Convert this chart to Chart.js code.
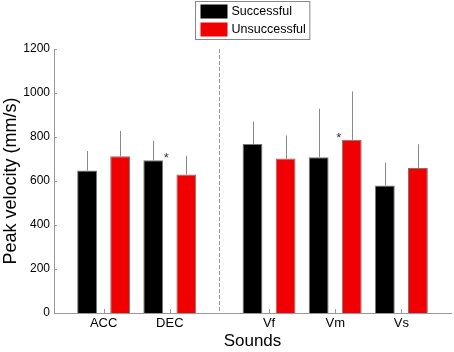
<!DOCTYPE html>
<html>
<head>
<meta charset="utf-8">
<script src="https://cdn.jsdelivr.net/npm/chart.js@4.4.1/dist/chart.umd.min.js"></script>
<style>
  html, body { margin: 0; padding: 0; background: #fff; }
  #wrap { width: 454px; height: 352px; }
</style>
</head>
<body>
<div id="wrap"><canvas id="c" width="454" height="352"></canvas></div>
<script>
// ---- data ----
const categories = ['ACC', 'DEC', 'Vf', 'Vm', 'Vs'];
const seriesNames = ['Successful', 'Unsuccessful'];
const successful = [648, 694, 768, 708, 580];
const successfulSD = [88, 89, 102, 220, 103];
const unsuccessful = [712, 630, 702, 787, 659];
const unsuccessfulSD = [115, 84, 105, 220, 108];
const successfulSig = [false, true, false, false, false];
const unsuccessfulSig = [false, false, false, true, false];
const yTicks = [0, 200, 400, 600, 800, 1000, 1200];
const groupBreakAfter = 1; // dashed separator after DEC

// ---- derived positions (slot units) ----
function catCenter(i) { return 2 * i + (i > groupBreakAfter ? 1 : 0) + 0.5; }
const separatorX = 2 * (groupBreakAfter + 1);
const sData = successful.map((v, i) => ({ x: catCenter(i) - 0.5, y: v }));
const uData = unsuccessful.map((v, i) => ({ x: catCenter(i) + 0.5, y: v }));

const FONT = "'Liberation Sans', Arial, Helvetica, sans-serif";
const GRAY = '#999999';
const RED = '#f00000';

const extras = {
  id: 'extras',
  beforeDatasetsDraw(chart) {
    const { ctx, chartArea, scales: { x } } = chart;
    const px = Math.round(x.getPixelForValue(separatorX)) + 0.5;
    ctx.save();
    ctx.strokeStyle = GRAY;
    ctx.lineWidth = 1;
    ctx.setLineDash([4, 2]);
    ctx.beginPath();
    ctx.moveTo(px, chartArea.top);
    ctx.lineTo(px, chartArea.bottom);
    ctx.stroke();
    ctx.restore();
  },
  afterDatasetsDraw(chart) {
    const { ctx, scales: { x, y } } = chart;
    const sets = [
      { data: sData, sd: successfulSD, sig: successfulSig, side: 1 },
      { data: uData, sd: unsuccessfulSD, sig: unsuccessfulSig, side: -1 }
    ];
    ctx.save();
    sets.forEach((s, di) => {
      const meta = chart.getDatasetMeta(di);
      s.data.forEach((p, i) => {
        const bar = meta.data[i];
        const cx = Math.round(x.getPixelForValue(p.x)) + 0.5;
        const yTop = y.getPixelForValue(p.y);
        const yErr = y.getPixelForValue(p.y + s.sd[i]);
        ctx.strokeStyle = '#888888';
        ctx.lineWidth = 1;
        ctx.setLineDash([]);
        ctx.beginPath();
        ctx.moveTo(cx, yTop);
        ctx.lineTo(cx, yErr);
        ctx.stroke();
        if (s.sig[i]) {
          const half = bar.width / 2;
          const sx = bar.x + s.side * (half + 3);
          ctx.fillStyle = '#333333';
          ctx.font = '13px ' + FONT;
          ctx.textAlign = 'center';
          ctx.textBaseline = 'alphabetic';
          ctx.fillText('*', sx, yTop + 2);
        }
      });
    });
    ctx.restore();
  },
  afterDraw(chart) {
    const { ctx, chartArea, scales: { x, y } } = chart;
    ctx.save();
    ctx.strokeStyle = GRAY;
    ctx.lineWidth = 1;
    // inward y ticks
    yTicks.forEach(v => {
      const py = Math.round(y.getPixelForValue(v)) + 0.5;
      ctx.beginPath();
      ctx.moveTo(chartArea.left, py);
      ctx.lineTo(chartArea.left + 3, py);
      ctx.stroke();
    });
    // inward x ticks
    categories.forEach((c, i) => {
      const px = Math.round(x.getPixelForValue(catCenter(i))) + 0.5;
      ctx.beginPath();
      ctx.moveTo(px, chartArea.bottom);
      ctx.lineTo(px, chartArea.bottom - 4);
      ctx.stroke();
    });
    // legend box
    ctx.font = '12.5px ' + FONT;
    const textW = Math.max(...seriesNames.map(n => ctx.measureText(n).width));
    const swW = 27, gap = 4, padL = 5, padR = 4;
    const boxW = padL + swW + gap + textW + padR;
    const boxH = 38;
    const cxm = (chartArea.left + chartArea.right) / 2;
    const bx = Math.round(cxm - boxW / 2) + 0.5;
    const by = 1.5;
    ctx.fillStyle = '#ffffff';
    ctx.fillRect(bx, by, boxW, boxH);
    ctx.strokeStyle = '#888888';
    ctx.strokeRect(bx, by, boxW, boxH);
    const colors = ['#000000', RED];
    const rowsY = [11.5, 29.5];
    seriesNames.forEach((n, i) => {
      ctx.fillStyle = colors[i];
      ctx.fillRect(bx + padL, rowsY[i] - 7, swW, 14);
      ctx.fillStyle = '#000000';
      ctx.textAlign = 'left';
      ctx.textBaseline = 'middle';
      ctx.fillText(n, bx + padL + swW + gap, rowsY[i] + 0.5);
    });
    ctx.restore();
  }
};

new Chart(document.getElementById('c'), {
  type: 'bar',
  data: {
    datasets: [
      { label: seriesNames[0], data: sData, backgroundColor: '#000000', borderColor: '#777777', borderWidth: 1 },
      { label: seriesNames[1], data: uData, backgroundColor: RED, borderColor: '#777777', borderWidth: 1 }
    ]
  },
  options: {
    responsive: false,
    animation: false,
    devicePixelRatio: 1,
    grouped: false,
    barPercentage: 0.6,
    categoryPercentage: 1,
    layout: { padding: { top: 49, right: 3, left: 0, bottom: 0 } },
    plugins: { legend: { display: false }, tooltip: { enabled: false } },
    scales: {
      x: {
        type: 'linear',
        min: -1,
        max: 11,
        bounds: 'data',
        offset: false,
        grid: { display: false, drawTicks: false, offset: false },
        border: { display: true, color: GRAY, width: 1 },
        afterBuildTicks: s => { s.ticks = categories.map((c, i) => ({ value: catCenter(i) })); },
        afterFit: s => { s.height = 39; },
        ticks: {
          autoSkip: false, maxRotation: 0, padding: 3,
          color: '#000000', font: { family: FONT, size: 13 },
          callback: (v, i) => categories[i]
        },
        title: { display: true, text: 'Sounds', color: '#000000', font: { family: FONT, size: 17 }, padding: { top: 0, bottom: 0 } }
      },
      y: {
        type: 'linear',
        min: 0,
        max: 1200,
        grid: { display: false, drawTicks: false },
        border: { display: true, color: GRAY, width: 1 },
        afterBuildTicks: s => { s.ticks = yTicks.map(v => ({ value: v })); },
        afterFit: s => { s.width = 54; },
        ticks: { padding: 4, color: '#000000', font: { family: FONT, size: 12 }, callback: v => String(v) },
        title: { display: true, text: 'Peak velocity (mm/s)', color: '#000000', font: { family: FONT, size: 18 }, padding: { top: 0, bottom: 0 } }
      }
    }
  },
  plugins: [extras]
});
</script>
</body>
</html>
